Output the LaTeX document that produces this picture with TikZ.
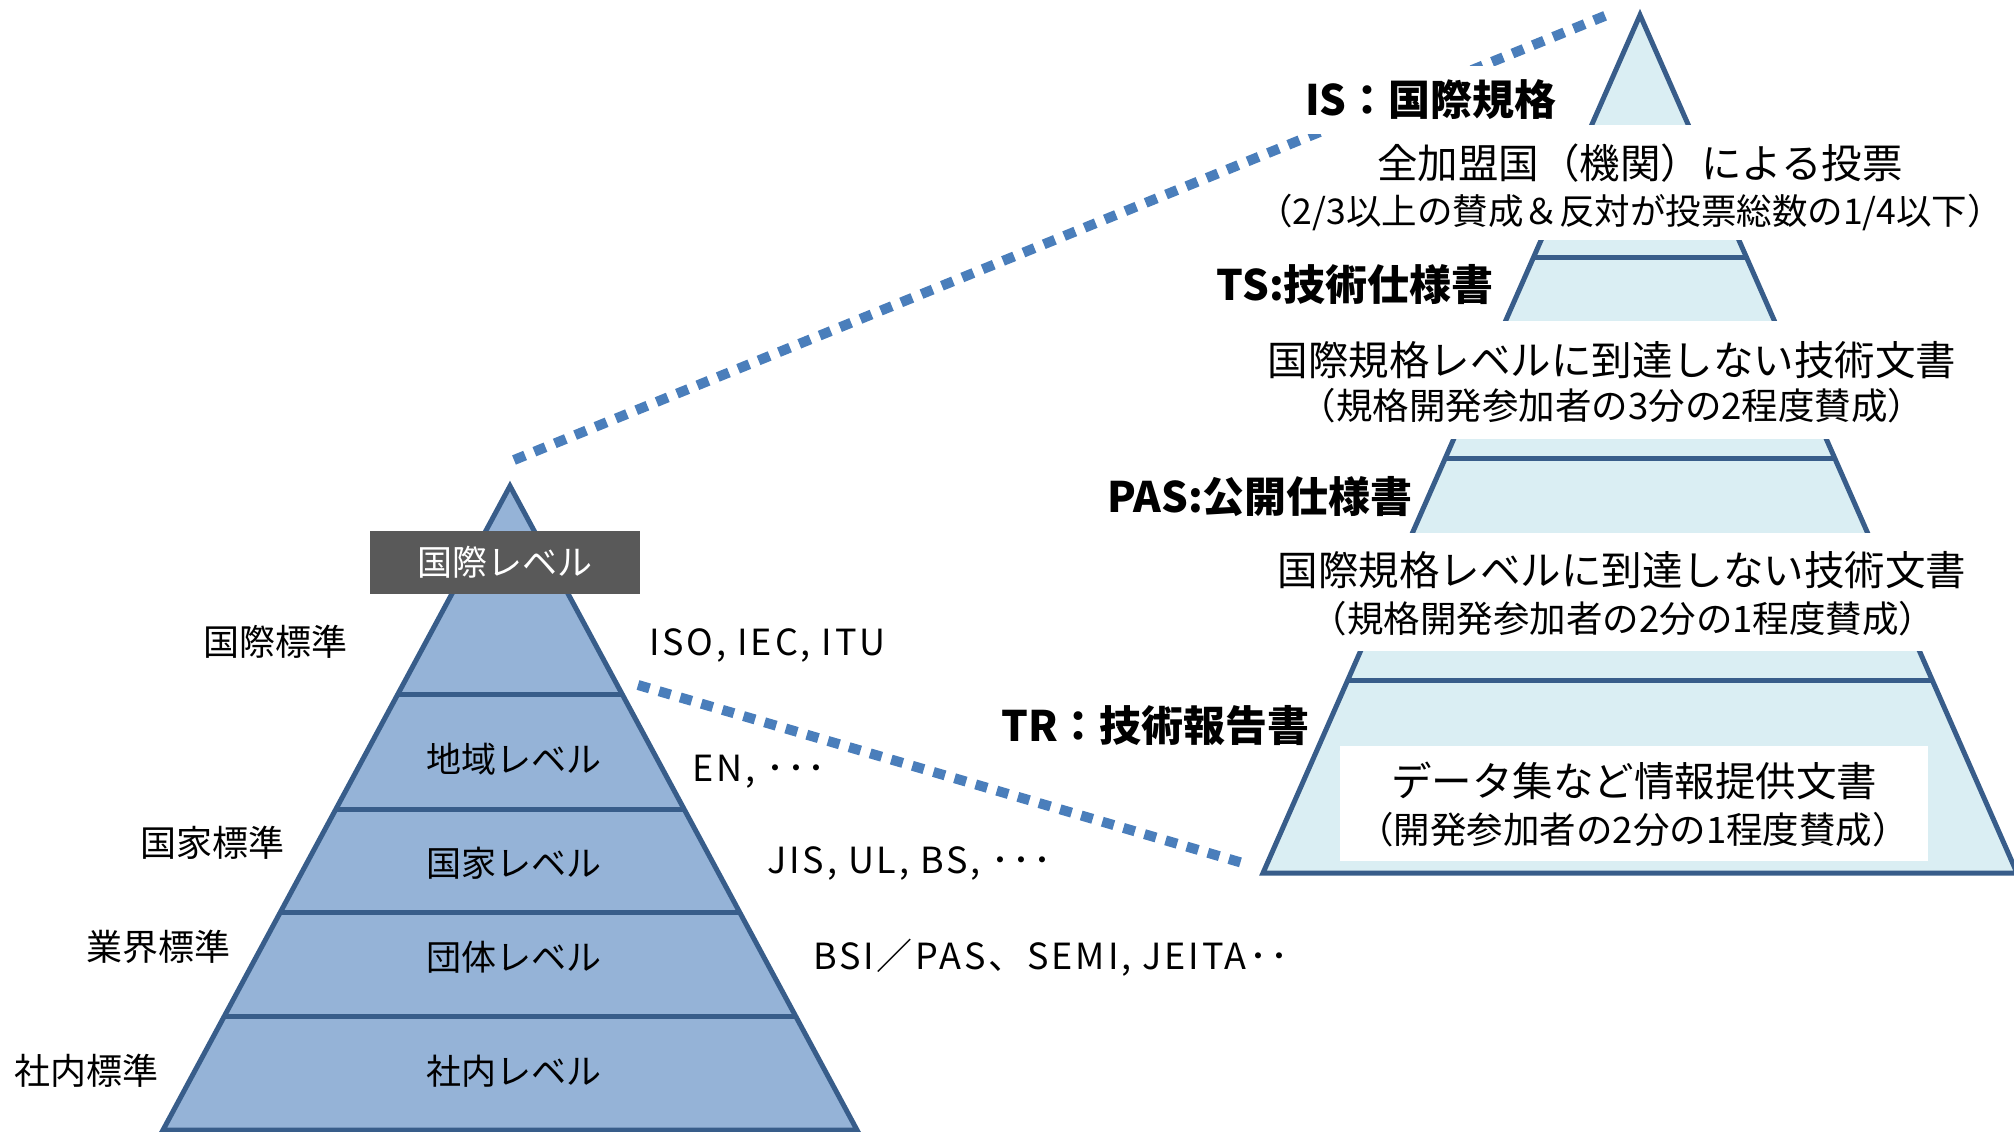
\documentclass[tikz,border=0pt]{standalone}
\usepackage{fontspec}
\setmainfont{Noto Sans CJK JP}
\newfontfamily\orgfont[LetterSpace=8]{Noto Sans CJK JP}
\usetikzlibrary{calc}
\definecolor{lfill}{HTML}{95B3D7}
\definecolor{rfill}{HTML}{DAEEF3}
\definecolor{edge}{HTML}{385D8A}
\definecolor{dashc}{HTML}{4A7EBB}
\definecolor{boxg}{HTML}{595959}
\begin{document}
\begin{tikzpicture}[x=1pt,y=-1pt,
  pyr/.style={draw=edge, line width=5pt, line join=miter},
  layer/.style={draw=edge, line width=5pt},
  link/.style={draw=dashc, line width=10pt, dash pattern=on 12pt off 10pt},
  side/.style={inner sep=0pt, font=\fontsize{36}{43}\selectfont},
  lvl/.style={inner sep=0pt, font=\fontsize{35}{42}\selectfont},
  org/.style={inner sep=0pt, anchor=west, font=\orgfont\fontsize{36}{42}\selectfont},
  head/.style={inner sep=0pt, anchor=east, font=\bfseries\fontsize{42}{50}\selectfont},
  big/.style={inner sep=0pt, font=\fontsize{40.5}{48}\selectfont},
  small/.style={inner sep=0pt, font=\fontsize{36.5}{43}\selectfont},
  intlbox/.style={fill=boxg, text=white, minimum width=270pt, minimum height=63pt, inner sep=0pt, font=\fontsize{35}{42}\selectfont}
]
\useasboundingbox (0,0) rectangle (2014,1132);

% ---- left pyramid ----
\coordinate (LA) at (510,486);
\coordinate (LBL) at (163,1130);
\coordinate (LBR) at (857,1130);
\fill[lfill] (LA) -- (LBR) -- (LBL) -- cycle;
\draw[pyr] (LA) -- (LBR) -- (LBL) -- cycle;
\foreach \t in {0.3245,0.5016,0.6630,0.8245}
  \draw[layer] ($(LA)!\t!(LBL)$) -- ($(LA)!\t!(LBR)$);

\node[intlbox] (intl) at (505,562) {国際レベル};

\node[lvl] (region) at (514,759) {地域レベル};
\node[lvl] (national) at (514,863) {国家レベル};
\node[lvl] (group) at (514,957) {団体レベル};
\node[lvl] (company) at (514,1071) {社内レベル};

\node[side] (s1) at (275,642) {国際標準};
\node[side] (s2) at (212,843) {国家標準};
\node[side] (s3) at (158,947) {業界標準};
\node[side] (s4) at (86,1071) {社内標準};

\node[org] (o1) at (649,645) {ISO, IEC, ITU};
\node[org] (o2) at (692,772) {EN, ･･･};
\node[org] (o3) at (767,863) {JIS, UL, BS, ･･･};
\node[org] (o4) at (813,958) {BSI／PAS、SEMI, JEITA･･};

% ---- connectors ----
\coordinate (d1a) at (514,460);
\coordinate (d1b) at (1612,13);
\coordinate (d2a) at (638,685);
\coordinate (d2b) at (1246,864);
\draw[link] (d1a) -- (d1b);
\draw[link] (d2a) -- (d2b);

% ---- right pyramid ----
\coordinate (RA) at (1640,15);
\coordinate (RBL) at (1263,873);
\coordinate (RBR) at (2017,873);
\fill[rfill] (RA) -- (RBR) -- (RBL) -- cycle;
\draw[pyr] (RA) -- (RBR) -- (RBL) -- cycle;
\foreach \t in {0.2821,0.5169,0.7762}
  \draw[layer] ($(RA)!\t!(RBL)$) -- ($(RA)!\t!(RBR)$);

% white text bands
\fill[white] (1440,125) rectangle (2014,240);
\fill[white] (1250,321) rectangle (2014,439);
\fill[white] (1250,533) rectangle (2014,651);
\fill[white] (1340,746) rectangle (1928,861);

\node[head, fill=white, inner xsep=10pt, inner ysep=14pt] (is) at (1567,100) {IS：国際規格};
\node[head] (ts) at (1494,285) {TS:技術仕様書};
\node[head] (pas) at (1413,497) {PAS:公開仕様書};
\node[head] (tr) at (1310,726) {TR：技術報告書};

\node[big] (t1) at (1640,163) {全加盟国（機関）による投票};
\node[small, font=\fontsize{35.5}{42}\selectfont] (t2) at (1630,212) {（2/3以上の賛成＆反対が投票総数の1/4以下）};
\node[big] (t3) at (1612,360) {国際規格レベルに到達しない技術文書};
\node[small] (t4) at (1612,406) {（規格開発参加者の3分の2程度賛成）};
\node[big] (t5) at (1622,570) {国際規格レベルに到達しない技術文書};
\node[small] (t6) at (1623,619) {（規格開発参加者の2分の1程度賛成）};
\node[big] (t7) at (1634,781) {データ集など情報提供文書};
\node[small] (t8) at (1633,830) {（開発参加者の2分の1程度賛成）};
\end{tikzpicture}
\end{document}
